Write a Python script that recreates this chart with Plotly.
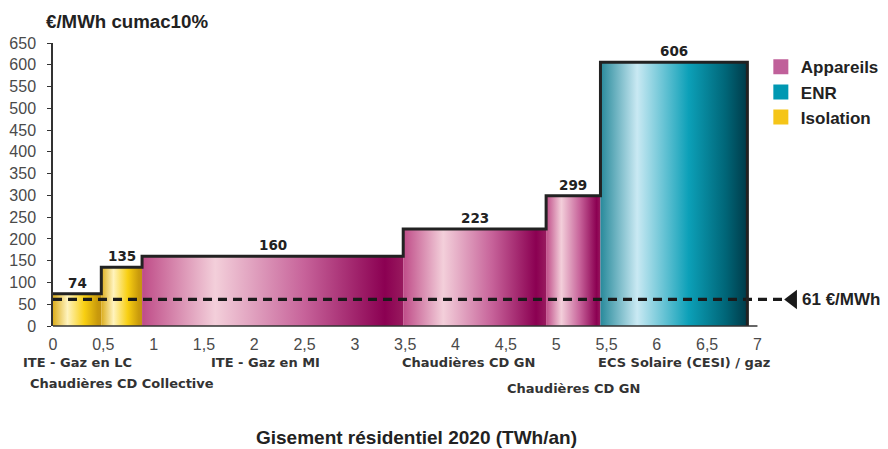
import numpy as np
import plotly.graph_objects as go

# ---------------- data ----------------
measures = ["ITE - Gaz en LC", "Chaudières CD Collective", "ITE - Gaz en MI",
            "Chaudières CD GN", "Chaudières CD GN", "ECS Solaire (CESI) / gaz"]
gisement = [0.48, 0.405, 2.595, 1.42, 0.54, 1.46]          # TWh/an (bar widths)
cout = [74, 135, 160, 223, 299, 606]                        # €/MWh cumac10%
famille = ["Isolation", "Isolation", "Appareils", "Appareils", "Appareils", "ENR"]
legend_order = ["Appareils", "ENR", "Isolation"]
reference_cost = 61                                         # €/MWh
x_ticks = [0, 0.5, 1, 1.5, 2, 2.5, 3, 3.5, 4, 4.5, 5, 5.5, 6, 6.5, 7]
y_ticks = list(range(0, 651, 50))

# ---------------- styles ----------------
legend_color = {"Appareils": "#c0609a", "ENR": "#0098b2", "Isolation": "#f5c518"}
gradients = {
    "Isolation": [[0, "#dcae1e"], [0.3, "#fff3bd"], [0.65, "#f8cf12"], [0.92, "#c99a0c"], [1, "#c49410"]],
    "Appareils": [[0, "#bf4c88"], [0.28, "#f3cfda"], [0.62, "#c7639a"], [0.93, "#8b0052"], [1, "#981a5e"]],
    "ENR": [[0, "#288a9b"], [0.25, "#c9e9f3"], [0.6, "#0ca0b8"], [0.85, "#006678"], [1, "#003a48"]],
}
label_xshift = [0, 0, -7, -6, 0, 10]
label_yshift = [-36, -57, -36, -36, -62, -36]
SANS = "Liberation Sans"
BOLD_W = "DejaVu Sans"
DARK = "#222222"

right_edges = np.cumsum(gisement)
left_edges = right_edges - np.array(gisement)

fig = go.Figure()

# bars as gradient-filled rectangles
for x0, x1, v, fam in zip(left_edges, right_edges, cout, famille):
    fig.add_trace(go.Scatter(
        x=[x0, x0, x1, x1, x0], y=[0, v, v, 0, 0],
        mode="lines", line=dict(width=0), fill="toself",
        fillgradient=dict(type="horizontal", colorscale=gradients[fam]),
        hoverinfo="skip", showlegend=False))

# reference dashed line
fig.add_trace(go.Scatter(
    x=[0, 7.27], y=[reference_cost, reference_cost], mode="lines",
    line=dict(color="#1a1a1a", width=3.2, dash="9px,6px"),
    hoverinfo="skip", showlegend=False))
fig.add_trace(go.Scatter(
    x=[7.35], y=[reference_cost], mode="markers", cliponaxis=False,
    marker=dict(symbol="triangle-left", size=17, color="#1a1a1a"),
    hoverinfo="skip", showlegend=False))

# staircase outline
sx, sy = [0], [cout[0]]
for i, (x1, v) in enumerate(zip(right_edges, cout)):
    sx.append(x1); sy.append(v)
    if i + 1 < len(cout):
        sx.append(x1); sy.append(cout[i + 1])
sx.append(right_edges[-1]); sy.append(0)
fig.add_trace(go.Scatter(x=sx, y=sy, mode="lines",
                         line=dict(color=DARK, width=3), cliponaxis=False,
                         hoverinfo="skip", showlegend=False))

# legend entries
for fam in legend_order:
    fig.add_trace(go.Scatter(x=[None], y=[None], mode="markers", name=f"<b>{fam}</b>",
                             marker=dict(symbol="square", size=15, color=legend_color[fam])))

annotations = []
for x0, x1, v in zip(left_edges, right_edges, cout):
    annotations.append(dict(x=(x0 + x1) / 2, y=v, text=f"<b>{v}</b>", showarrow=False,
                            yanchor="bottom", yshift=1,
                            font=dict(family=BOLD_W, size=13.5, color=DARK)))
for x0, x1, name, dx, dy in zip(left_edges, right_edges, measures, label_xshift, label_yshift):
    annotations.append(dict(x=(x0 + x1) / 2, xref="x", y=0, yref="paper", text=f"<b>{name}</b>",
                            showarrow=False, xshift=dx, yshift=dy, yanchor="middle",
                            font=dict(family=BOLD_W, size=13, color="#333333")))
annotations.append(dict(x=7.42, y=reference_cost, text="<b>61 €/MWh</b>", showarrow=False,
                        xanchor="left", yanchor="middle",
                        font=dict(family=SANS, size=17, color=DARK)))
annotations.append(dict(x=-0.012, xref="paper", y=1, yref="paper", yshift=22,
                        text="<b>€/MWh cumac10%</b>", showarrow=False,
                        xanchor="left", yanchor="middle",
                        font=dict(family=SANS, size=18.7, color=DARK)))
annotations.append(dict(x=(416 - 53) / 790, xref="paper", y=0, yref="paper", yshift=-111,
                        text="<b>Gisement résidentiel 2020 (TWh/an)</b>", showarrow=False,
                        xanchor="center", yanchor="middle",
                        font=dict(family=SANS, size=19, color=DARK)))

# the page body adds an 8px margin around the figure: compensate in size/margins
fig.update_layout(
    width=880, height=441,
    margin=dict(l=45, r=45, t=35, b=123, autoexpand=False),
    paper_bgcolor="white", plot_bgcolor="white",
    showlegend=True,
    legend=dict(x=0.896, y=0.978, xanchor="left", yanchor="top",
                font=dict(family=SANS, size=17, color=DARK),
                bgcolor="rgba(0,0,0,0)", tracegroupgap=0, itemwidth=30),
    annotations=annotations,
    shapes=[dict(type="line", xref="x", yref="paper", x0=0, x1=7, y0=0, y1=0,
                 line=dict(color="#333333", width=1.5))],
    xaxis=dict(range=[0, 7.85], tickvals=x_ticks, automargin=False,
               ticktext=[f"{t:g}".replace(".", ",") for t in x_ticks],
               showgrid=False, zeroline=False, showline=False, ticks="",
               ticklabelstandoff=7,
               tickfont=dict(family=SANS, size=16, color="#4a4a4a")),
    yaxis=dict(range=[0, 650], tickvals=y_ticks, showgrid=False, zeroline=False,
               automargin=False,
               showline=True, linecolor="#333333", linewidth=1.5,
               ticks="outside", ticklen=4, tickcolor="#333333", tickwidth=1,
               ticklabelstandoff=8,
               tickfont=dict(family=SANS, size=16, color="#4a4a4a")),
)

fig.write_html("out.html")
